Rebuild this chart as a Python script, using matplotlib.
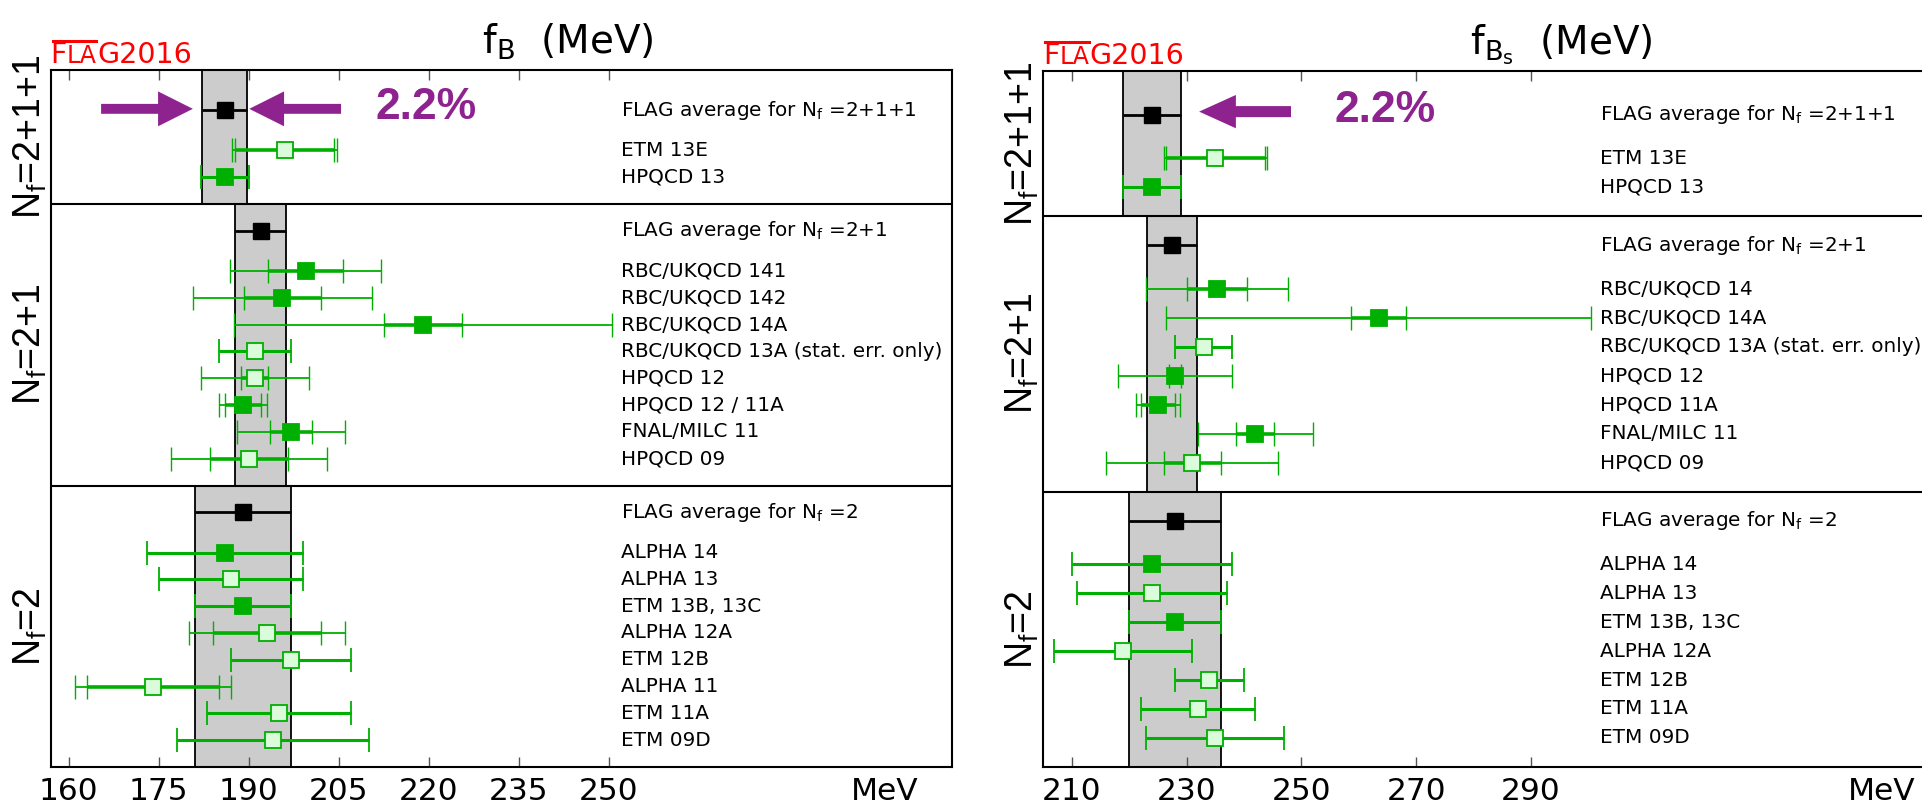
import numpy as np
import matplotlib.pyplot as plt
import matplotlib.transforms as mtransforms
from matplotlib.lines import Line2D

plt.rcParams['font.family'] = ['DejaVu Sans']
plt.rcParams['mathtext.fontset'] = 'dejavusans'
plt.rcParams['mathtext.rm'] = 'Liberation Sans'

GREEN = '#00b000'
LIGHT = '#dbfcdb'
PURPLE = '#8e2390'
BAND = '#cccccc'

section_labels = [r'N$_\mathrm{f}$=2+1+1', r'N$_\mathrm{f}$=2+1', r'N$_\mathrm{f}$=2']
avg_labels = [r'FLAG average for N$_\mathrm{f}$ =2+1+1',
              r'FLAG average for N$_\mathrm{f}$ =2+1',
              r'FLAG average for N$_\mathrm{f}$ =2']

# ---- f_B ----
fb_avg = [186.0, 192.0, 189.0]
fb_avg_err = [3.8, 4.3, 8.0]
fb_names = ['ETM 13E', 'HPQCD 13',
            'RBC/UKQCD 141', 'RBC/UKQCD 142', 'RBC/UKQCD 14A',
            'RBC/UKQCD 13A (stat. err. only)', 'HPQCD 12', 'HPQCD 12 / 11A',
            'FNAL/MILC 11', 'HPQCD 09',
            'ALPHA 14', 'ALPHA 13', 'ETM 13B, 13C', 'ALPHA 12A', 'ETM 12B',
            'ALPHA 11', 'ETM 11A', 'ETM 09D']
fb_group = [0, 0, 1, 1, 1, 1, 1, 1, 1, 1, 2, 2, 2, 2, 2, 2, 2, 2]
fb_val = [196.0, 186.0, 199.5, 195.6, 219.0, 191.0, 191.0, 189.0, 197.0, 190.0,
          186.0, 187.0, 189.0, 193.0, 197.0, 174.0, 195.0, 194.0]
fb_stat = [8.2, 0, 6.2, 6.4, 6.5, 0, 2.2, 3.0, 3.5, 6.5,
           0, 0, 0, 9.0, 0, 11.0, 0, 0]
fb_tot = [8.7, 4.0, 12.6, 14.9, 31.5, 6.0, 9.0, 4.0, 9.0, 13.0,
          13.0, 12.0, 8.0, 13.0, 10.0, 13.0, 12.0, 16.0]
fb_filled = [False, True, True, True, True, False, False, True, True, False,
             True, False, True, False, False, False, False, False]
fb_ticks = [160, 175, 190, 205, 220, 235, 250]

# ---- f_Bs ----
fbs_avg = [224.0, 227.5, 228.0]
fbs_avg_err = [5.0, 4.4, 8.0]
fbs_names = ['ETM 13E', 'HPQCD 13',
             'RBC/UKQCD 14', 'RBC/UKQCD 14A', 'RBC/UKQCD 13A (stat. err. only)',
             'HPQCD 12', 'HPQCD 11A', 'FNAL/MILC 11', 'HPQCD 09',
             'ALPHA 14', 'ALPHA 13', 'ETM 13B, 13C', 'ALPHA 12A', 'ETM 12B',
             'ETM 11A', 'ETM 09D']
fbs_group = [0, 0, 1, 1, 1, 1, 1, 1, 1, 2, 2, 2, 2, 2, 2, 2]
fbs_val = [235.0, 224.0, 235.3, 263.5, 233.0, 228.0, 225.0, 242.0, 231.0,
           224.0, 224.0, 228.0, 219.0, 234.0, 232.0, 235.0]
fbs_stat = [8.6, 0, 5.2, 4.8, 0, 1.0, 3.0, 3.3, 5.0,
            0, 0, 0, 0, 0, 0, 0]
fbs_tot = [9.0, 5.0, 12.3, 37.0, 5.0, 10.0, 3.8, 10.0, 15.0,
           14.0, 13.0, 8.0, 12.0, 6.0, 10.0, 12.0]
fbs_filled = [False, True, True, True, False, True, True, True, False,
              True, False, True, False, False, False, False]
fbs_ticks = [210, 230, 250, 270, 290]


def layout(group):
    group = np.asarray(group)
    bounds = [0.0]
    avg_y = []
    ent_y = np.zeros(len(group))
    for g in range(3):
        idx = np.where(group == g)[0]
        pad = 1.5 if g == 0 else 1.0
        a = bounds[-1] + pad
        avg_y.append(a)
        ent_y[idx] = a + 1.5 + np.arange(len(idx))
        bounds.append(ent_y[idx][-1] + 1.0)
    return np.array(avg_y), ent_y, bounds


def flag_logo(fig, ax):
    # red "FLAG2016" mark with small-cap LA and an overline over FLA
    r = fig.canvas.get_renderer()
    W, H = fig.bbox.width, fig.bbox.height
    x, y = ax.transAxes.transform((0.0, 1.01))
    x_start = x
    ends = []
    for s, fs in [('F', 20.5), ('LA', 17), ('G2016', 20.5)]:
        t = fig.text(x / W, y / H, s, fontsize=fs, color='red', ha='left', va='baseline')
        x = t.get_window_extent(r).x1
        ends.append(x)
    ytop = (y + 0.729 * 20.5 * fig.dpi / 72 + 1.5) / H
    fig.add_artist(Line2D([(x_start + 2) / W, (ends[1] - 1) / W], [ytop, ytop],
                          transform=fig.transFigure, color='red', lw=2.2))


def draw_panel(ax, xlim, ticks, mev_x, label_x, avg, avg_err, names, group,
               val, stat, tot, filled, title, title_x):
    avg_y, ent_y, bounds = layout(group)
    for g in range(3):
        ax.fill_betweenx([bounds[g], bounds[g + 1]], avg[g] - avg_err[g], avg[g] + avg_err[g],
                         facecolor=BAND, edgecolor='black', lw=1.3, zorder=0.5)
        ax.errorbar(avg[g], avg_y[g], xerr=avg_err[g], fmt='s', color='black', ms=12,
                    elinewidth=2.0, capsize=0, zorder=4)
        ax.text(label_x, avg_y[g], avg_labels[g], fontsize=14.4, va='center', ha='left')
    for b in bounds[1:-1]:
        ax.axhline(b, color='black', lw=1.5, zorder=2)
    for v, y, s, t, f, n in zip(val, ent_y, stat, tot, filled, names):
        if s == 0:
            ax.errorbar(v, y, xerr=t, fmt='none', ecolor=GREEN, elinewidth=2.2,
                        capsize=8.5, capthick=1.3, zorder=3)
        else:
            ax.errorbar(v, y, xerr=t, fmt='none', ecolor=GREEN, elinewidth=1.3,
                        capsize=8.5, capthick=1.0, zorder=3)
            ax.errorbar(v, y, xerr=s, fmt='none', ecolor=GREEN, elinewidth=2.6,
                        capsize=8.5, capthick=1.0, zorder=3)
        ax.plot(v, y, marker='s', ms=12, mfc=GREEN if f else LIGHT, mec=GREEN,
                mew=1.3, zorder=4)
        ax.text(label_x, y, n, fontsize=14.4, va='center', ha='left')

    tr = mtransforms.blended_transform_factory(ax.transAxes, ax.transData)
    for g in range(3):
        ax.text(-0.023, 0.5 * (bounds[g] + bounds[g + 1]), section_labels[g],
                transform=tr, rotation=90, ha='center', va='center', fontsize=27,
                family='Liberation Sans', math_fontfamily='custom')

    ax.set_xlim(xlim)
    ax.set_ylim(bounds[-1], 0)
    ax.set_yticks([])
    ax.set_xticks(ticks + [mev_x])
    ax.set_xticklabels([str(t) for t in ticks] + ['MeV'])
    ax.tick_params(axis='x', direction='in', top=True, length=7, width=1,
                   color='#555555', labelsize=22.5, pad=7)
    last = ax.xaxis.get_major_ticks()[-1]
    last.tick1line.set_visible(False)
    last.tick2line.set_visible(False)
    for sp in ax.spines.values():
        sp.set_linewidth(1.5)

    ax.text(title_x, 1.024, title, transform=ax.transAxes, ha='center',
            va='baseline', fontsize=28)
    return avg_y


fig = plt.figure(figsize=(19.22, 8.06), dpi=100)
ax1 = fig.add_axes([0.02638, 0.04839, 0.4691, 0.8648])
ax2 = fig.add_axes([0.5428, 0.04839, 0.4630, 0.8635])

ay1 = draw_panel(ax1, (157.0, 307.3), fb_ticks, 296, 252, fb_avg, fb_avg_err,
                 fb_names, fb_group, fb_val, fb_stat, fb_tot, fb_filled,
                 r'$\mathrm{f_B}$  (MeV)', 0.574)
ay2 = draw_panel(ax2, (205.05, 360.05), fbs_ticks, 351, 302, fbs_avg, fbs_avg_err,
                 fbs_names, fbs_group, fbs_val, fbs_stat, fbs_tot, fbs_filled,
                 r'$\mathrm{f_{B_s}}$  (MeV)', 0.582)
flag_logo(fig, ax1)
flag_logo(fig, ax2)

# 2.2% annotations
ax1.arrow(165.4, ay1[0] - 0.05, 15.3, 0, width=0.37, head_width=1.3, head_length=5.8,
          length_includes_head=True, color=PURPLE, lw=0, zorder=5)
ax1.arrow(205.4, ay1[0] - 0.05, -15.3, 0, width=0.37, head_width=1.3, head_length=5.8,
          length_includes_head=True, color=PURPLE, lw=0, zorder=5)
ax1.text(211.2, ay1[0] - 0.1, '2.2%', fontsize=32, fontweight='bold', color=PURPLE,
         family='Liberation Sans', va='center', ha='left')
ax2.arrow(248.2, ay2[0] - 0.1, -16.0, 0, width=0.38, head_width=1.15, head_length=6.4,
          length_includes_head=True, color=PURPLE, lw=0, zorder=5)
ax2.text(255.7, ay2[0] - 0.15, '2.2%', fontsize=32, fontweight='bold', color=PURPLE,
         family='Liberation Sans', va='center', ha='left')

fig.savefig('out.png', dpi=100)
